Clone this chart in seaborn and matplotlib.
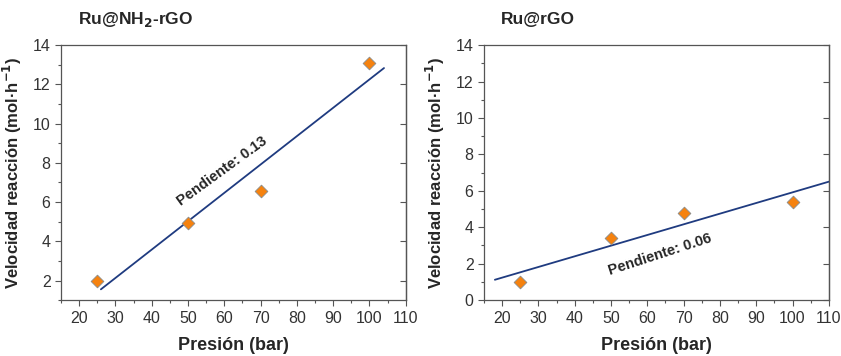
import numpy as np
import pandas as pd
import matplotlib
matplotlib.use("Agg")
import matplotlib.pyplot as plt
import seaborn as sns
from matplotlib.ticker import MultipleLocator, NullLocator

sns.set_style("ticks")
plt.rcParams['font.family'] = ['Liberation Sans', 'DejaVu Sans']

# data
pressure = [25, 50, 70, 100]
rate_nh2 = [2.0, 4.95, 6.55, 13.1]
rate_rgo = [1.0, 3.4, 4.8, 5.4]

# x-range over which each fitted line is drawn
fit_range_nh2 = [26, 104]
fit_range_rgo = [18, 110]

titles = ['Ru@NH$_\\mathbf{2}$-rGO', 'Ru@rGO']
slope_labels = ['Pendiente: 0.13', 'Pendiente: 0.06']

fig = plt.figure(figsize=(8.41, 3.56), dpi=100)
ax1 = fig.add_axes([0.0725, 0.157, 0.410, 0.716])
ax2 = fig.add_axes([0.5755, 0.157, 0.410, 0.716])

panels = [
    (ax1, rate_nh2, fit_range_nh2, 1, (59.5, 7.6), 36),
    (ax2, rate_rgo, fit_range_rgo, 0, (63.5, 2.5), 18),
]

for i, (ax, rate, frange, ymin, txt_pos, rot) in enumerate(panels):
    df = pd.DataFrame({'Presion': pressure, 'Rate': rate})
    # linear fit
    slope, intercept = np.polyfit(df['Presion'], df['Rate'], 1)
    fx = np.array(frange)
    fit = pd.DataFrame({'x': fx, 'y': slope * fx + intercept})
    sns.lineplot(x='x', y='y', data=fit, ax=ax, color='#1f3b80', lw=1.3, clip_on=False)
    sns.scatterplot(x='Presion', y='Rate', data=df, ax=ax, marker='D', s=42,
                    color='#f5820f', edgecolor='#8a8a8a', linewidth=0.6, zorder=3)

    ax.set_xlim(15, 110)
    ax.set_ylim(ymin, 14)
    ax.xaxis.set_major_locator(MultipleLocator(10))
    ax.xaxis.set_minor_locator(MultipleLocator(5))
    ax.yaxis.set_major_locator(MultipleLocator(2))
    ax.yaxis.set_minor_locator(MultipleLocator(1))
    ax.tick_params(axis='both', which='major', labelsize=11.5, labelcolor='#333333',
                   color='#555555', length=4, width=0.8)
    ax.tick_params(axis='both', which='minor', color='#555555', length=2.5, width=0.8)
    for s in ax.spines.values():
        s.set_color('#555555')
        s.set_linewidth(0.9)

    # inward major ticks on the right spine
    sec = ax.secondary_yaxis('right')
    sec.yaxis.set_major_locator(MultipleLocator(2))
    sec.yaxis.set_minor_locator(NullLocator())
    sec.tick_params(direction='in', length=4, width=0.8, color='#555555', labelright=False)
    sec.spines['right'].set_color('#555555')
    sec.spines['right'].set_linewidth(0.9)

    ax.set_xlabel('Presión (bar)', fontsize=13, fontweight='bold', labelpad=8)
    ax.set_ylabel('Velocidad reacción (mol·h$^{\\mathbf{-1}}$)', fontsize=12,
                  fontweight='bold', labelpad=6)
    ax.text(0.05, 1.1, titles[i], transform=ax.transAxes, fontsize=12.5,
            fontweight='bold', ha='left', va='center')
    ax.text(txt_pos[0], txt_pos[1], slope_labels[i], rotation=rot, fontsize=10.5,
            fontweight='bold', ha='center', va='center', rotation_mode='anchor')

fig.savefig('out.png', dpi=100)
